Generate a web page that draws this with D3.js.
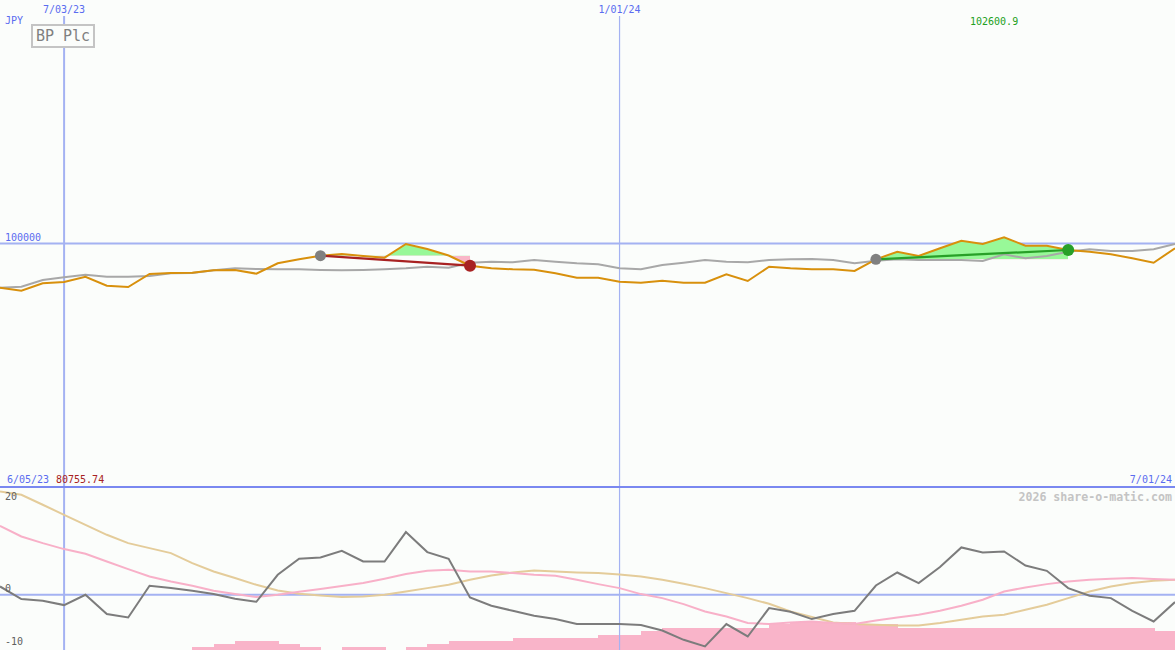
<!DOCTYPE html>
<html><head><meta charset="utf-8">
<script src="https://cdn.jsdelivr.net/npm/d3@7"></script>
<style>html,body{margin:0;padding:0;background:#fbfdfb;overflow:hidden;} svg{display:block;}</style>
</head><body>
<script>
// ---------------- DATA ----------------
const startDate = "2023-06-12";
const endDate = "2024-07-01";
// weekly equity/price series (JPY)
const price = [98185,98061,98365,98419,98636,98267,98213,98747,98788,98801,
  98899,98912,98760,99187,99351,99499,99569,99487,99417,99979,
  99774,99507,99088,98981,98940,98924,98776,98595,98595,98431,
  98390,98472,98390,98390,98735,98460,99047,98981,98940,98940,
  98871,99351,99663,99487,99803,100115,99979,100255,99910,99910,
  99733,99663,99556,99392,99211,99803];
const benchmark = [98185,98226,98501,98612,98719,98636,98636,98665,98776,98788,
  98899,98981,98953,98940,98940,98912,98899,98912,98940,98981,
  99047,99006,99211,99253,99228,99322,99253,99187,99146,98981,
  98940,99117,99211,99322,99253,99228,99322,99351,99363,99322,
  99187,99294,99351,99322,99322,99322,99281,99556,99392,99487,
  99663,99762,99692,99692,99762,99979];
// lower panel indicator series
const momentum = [1.58,-0.82,-1.14,-1.96,0,-3.67,-4.32,1.71,1.27,0.76,
  0.13,-0.76,-1.33,3.8,6.85,7.09,8.37,6.33,6.33,11.92,
  8.12,6.85,-0.51,-2.09,-3.04,-3.99,-4.62,-5.57,-5.57,-5.57,
  -5.76,-6.79,-8.56,-9.83,-5.57,-7.93,-2.53,-3.23,-4.62,-3.67,
  -3.04,1.77,4.24,2.23,5.27,9.0,8.04,8.23,5.57,4.56,
  1.27,-0.19,-0.63,-3.04,-5.08,-1.39];
const fastAvg = [13.12,11.09,9.83,8.69,7.80,6.33,4.89,3.48,2.53,1.71,
  0.76,0.13,-0.44,0,0.57,1.08,1.65,2.23,3.04,3.94,
  4.56,4.75,4.43,4.43,4.13,3.80,3.61,2.85,2.03,1.27,
  0.13,-0.63,-1.77,-3.18,-4.13,-5.38,-5.57,-5.27,-5.08,-5.38,
  -5.57,-4.89,-4.32,-3.80,-3.04,-2.09,-0.95,0.63,1.39,2.03,
  2.53,2.85,3.04,3.18,2.99,2.85];
const slowAvg = [19.65,19.02,17.12,15.21,13.31,11.41,9.83,8.88,7.93,6.03,
  4.43,3.18,1.90,0.82,0.19,-0.13,-0.44,-0.32,0,0.63,
  1.27,1.90,2.85,3.67,4.24,4.62,4.43,4.24,4.13,3.86,
  3.48,2.85,2.09,1.27,0.32,-0.63,-1.71,-3.18,-4.24,-5.27,
  -5.57,-5.71,-5.84,-5.84,-5.38,-4.75,-4.13,-3.80,-2.85,-1.90,
  -0.63,0.63,1.58,2.23,2.66,2.85];
const volume = [0,0,0,0,0,0,0,0,0,2.7,
  6,9,9,6,2.7,0,2.7,2.7,0,2.7,
  6,9,9,9,12.3,12.3,12.3,12.3,15,15,
  19,22.3,22.3,22.3,22.3,22.3,26,28.3,28.3,28.3,
  26,26,22.3,22.3,22.3,22.3,22.3,22.3,22.3,22.3,
  22.3,22.3,22.3,22.3,19,19];
// trades
const tradeEntry = ["2023-09-25","2024-03-25"];
const tradeExit  = ["2023-11-13","2024-05-27"];
// grid / labels
const gridDates = ["2023-07-03","2024-01-01"];
const gridLabels = ["7/03/23","1/01/24"];
const priceGridValues = [100000];
const priceGridLabels = ["100000"];
const lowerTicks = [20, 0, -10];
const lowerTickLabels = ["20","0","-10"];
const currencyLabel = "JPY";
const titleLabel = "BP Plc";
const highLabel = "102600.9";
const lowLabel = "80755.74";
const firstDateLabel = "6/05/23";
const lastDateLabel = "7/01/24";
const watermark = "2026 share-o-matic.com";

// ---------------- CHART ----------------
(function () {
const W = 1175, H = 650, splitY = 487;
const parse = d3.timeParse("%Y-%m-%d");
const dates = d3.timeMonday.range(parse(startDate), d3.timeDay.offset(parse(endDate), 1));

const x = d3.scaleTime().domain([parse(startDate), parse(endDate)]).range([0, W]);
const yTop = d3.scaleLinear().domain([90000, 110000]).range([splitY, 0]);
const yLow = d3.scaleLinear().domain([-10.5, 20.5]).range([H, splitY]);
const yVol = d3.scaleLinear().domain([0, 30]).range([H, H - 30]);

const svg = d3.select("body").append("svg").attr("width", W).attr("height", H)
  .style("font-family", "'DejaVu Sans Mono', monospace");
svg.append("rect").attr("width", W).attr("height", H).attr("fill", "#fbfdfb");

const defs = svg.append("defs");
defs.append("clipPath").attr("id", "clipTop").append("rect").attr("x", 0).attr("y", 0).attr("width", W).attr("height", splitY);
defs.append("clipPath").attr("id", "clipLow").append("rect").attr("x", 0).attr("y", splitY).attr("width", W).attr("height", H - splitY);

const blue = "#5a6cf0", gridBlue = "#a4b2f2";

// volume bars (lower panel)
const step = x(dates[1]) - x(dates[0]);
svg.append("g").attr("clip-path", "url(#clipLow)").attr("shape-rendering", "crispEdges")
  .selectAll("rect").data(volume).join("rect")
  .attr("x", (d, i) => Math.round(x(dates[i])))
  .attr("width", (d, i) => Math.round(i < dates.length - 1 ? x(dates[i + 1]) : x(dates[i]) + step) - Math.round(x(dates[i])) + 0.5)
  .attr("y", d => yVol(d)).attr("height", d => H - yVol(d))
  .attr("fill", "#f9b4c9");

// gridlines
svg.append("g").selectAll("line").data(priceGridValues).join("line")
  .attr("x1", 0).attr("x2", W).attr("y1", d => yTop(d)).attr("y2", d => yTop(d))
  .attr("stroke", gridBlue).attr("stroke-width", 2);
svg.append("line").attr("x1", 0).attr("x2", W).attr("y1", yLow(0)).attr("y2", yLow(0))
  .attr("stroke", gridBlue).attr("stroke-width", 2);
svg.append("g").selectAll("line").data(gridDates).join("line")
  .attr("x1", d => x(parse(d))).attr("x2", d => x(parse(d)))
  .attr("y1", 16).attr("y2", H)
  .attr("stroke", gridBlue).attr("stroke-width", (d, i) => i === 0 ? 2 : 1.2);
svg.append("line").attr("x1", 0).attr("x2", W).attr("y1", splitY).attr("y2", splitY)
  .attr("stroke", "#7a88f0").attr("stroke-width", 2);

// trade fills
const topG = svg.append("g").attr("clip-path", "url(#clipTop)");
tradeEntry.forEach((e, t) => {
  const i0 = dates.findIndex(d => +d === +parse(e));
  const i1 = dates.findIndex(d => +d === +parse(tradeExit[t]));
  const base = price[i0];
  const seg = d3.range(i0, i1 + 1);
  const area = d3.area().x(i => x(dates[i])).y0(yTop(base)).y1(i => yTop(price[i]));
  const idUp = "up" + t, idDn = "dn" + t;
  defs.append("clipPath").attr("id", idUp).append("rect")
    .attr("x", x(dates[i0])).attr("width", x(dates[i1]) - x(dates[i0]))
    .attr("y", 0).attr("height", yTop(base));
  defs.append("clipPath").attr("id", idDn).append("rect")
    .attr("x", x(dates[i0])).attr("width", x(dates[i1]) - x(dates[i0]))
    .attr("y", yTop(base)).attr("height", splitY - yTop(base));
  topG.append("path").datum(seg).attr("d", area).attr("fill", "#98f898").attr("clip-path", `url(#${idUp})`);
  topG.append("path").datum(seg).attr("d", area).attr("fill", "#f9b6c8").attr("clip-path", `url(#${idDn})`);
});

// price lines
const lineTop = arr => d3.line().x((d, i) => x(dates[i])).y(d => yTop(d))(arr);
topG.append("path").attr("d", lineTop(benchmark)).attr("fill", "none").attr("stroke", "#a8a8a8").attr("stroke-width", 2);
topG.append("path").attr("d", lineTop(price)).attr("fill", "none").attr("stroke", "#d8900c").attr("stroke-width", 2);

// trade lines & markers
tradeEntry.forEach((e, t) => {
  const i0 = dates.findIndex(d => +d === +parse(e));
  const i1 = dates.findIndex(d => +d === +parse(tradeExit[t]));
  const win = price[i1] > price[i0];
  const col = win ? "#28a028" : "#a82222";
  topG.append("line").attr("x1", x(dates[i0])).attr("y1", yTop(price[i0]))
    .attr("x2", x(dates[i1])).attr("y2", yTop(price[i1]))
    .attr("stroke", col).attr("stroke-width", 2.2);
  topG.append("circle").attr("cx", x(dates[i0])).attr("cy", yTop(price[i0])).attr("r", 5.5).attr("fill", "#808080");
  topG.append("circle").attr("cx", x(dates[i1])).attr("cy", yTop(price[i1])).attr("r", 6).attr("fill", col);
});

// lower indicator lines
const lowG = svg.append("g").attr("clip-path", "url(#clipLow)");
const lineLow = arr => d3.line().x((d, i) => x(dates[i])).y(d => yLow(d))(arr);
lowG.append("path").attr("d", lineLow(slowAvg)).attr("fill", "none").attr("stroke", "#e4cc9a").attr("stroke-width", 2);
lowG.append("path").attr("d", lineLow(fastAvg)).attr("fill", "none").attr("stroke", "#f8b0c8").attr("stroke-width", 2);
lowG.append("path").attr("d", lineLow(momentum)).attr("fill", "none").attr("stroke", "#7c7c7c").attr("stroke-width", 2);

// texts
svg.append("g").selectAll("text").data(gridDates).join("text")
  .attr("x", d => x(parse(d))).attr("y", 12.5).attr("text-anchor", "middle")
  .attr("font-size", 10).attr("fill", blue).text((d, i) => gridLabels[i]);
svg.append("text").attr("x", 5).attr("y", 24).attr("font-size", 10).attr("fill", blue).text(currencyLabel);
svg.append("g").selectAll("text").data(priceGridValues).join("text")
  .attr("x", 5).attr("y", d => yTop(d) - 2.5).attr("font-size", 10).attr("fill", blue)
  .text((d, i) => priceGridLabels[i]);

// title box
svg.append("rect").attr("x", 32).attr("y", 25).attr("width", 62).attr("height", 22)
  .attr("fill", "#fbfdfb").attr("stroke", "#c4c4c4").attr("stroke-width", 2);
svg.append("text").attr("x", 63).attr("y", 41).attr("text-anchor", "middle")
  .attr("font-size", 15).attr("fill", "#808080").text(titleLabel);

svg.append("text").attr("x", 970).attr("y", 25).attr("font-size", 10).attr("fill", "#22a022").text(highLabel);
svg.append("text").attr("x", 7).attr("y", 482.5).attr("font-size", 10).attr("fill", blue).text(firstDateLabel);
svg.append("text").attr("x", 56).attr("y", 482.5).attr("font-size", 10).attr("fill", "#a82222").text(lowLabel);
svg.append("text").attr("x", 1172).attr("y", 482.5).attr("text-anchor", "end").attr("font-size", 10).attr("fill", blue).text(lastDateLabel);
svg.append("text").attr("x", 1172).attr("y", 500.5).attr("text-anchor", "end").attr("font-size", 11.6)
  .attr("font-weight", "bold").attr("fill", "#c4c4c4").text(watermark);

svg.append("g").selectAll("text").data(lowerTicks).join("text")
  .attr("x", 5).attr("y", d => Math.min(Math.max(yLow(d) - 2.5, 500), 646))
  .attr("font-size", 10).attr("fill", "#606060")
  .text((d, i) => lowerTickLabels[i]);
})();
</script>
</body></html>
